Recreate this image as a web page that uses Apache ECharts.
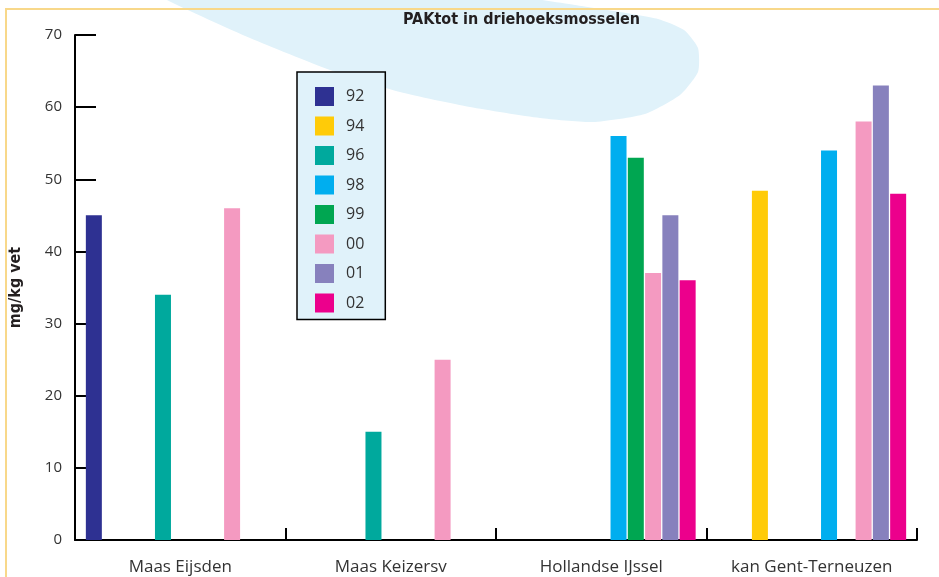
<!DOCTYPE html>
<html>
<head>
<meta charset="utf-8">
<title>PAKtot in driehoeksmosselen</title>
<script src="https://cdn.jsdelivr.net/npm/echarts@6/dist/echarts.min.js"></script>
<style>
  html, body { margin: 0; padding: 0; background: #ffffff; }
  #chart { width: 939px; height: 577px; }
</style>
</head>
<body>
<div id="chart"></div>
<script>
// Sampling locations (x categories)
var categories = ['Maas Eijsden', 'Maas Keizersv', 'Hollandse IJssel', 'kan Gent-Terneuzen'];

// Survey years; every year keeps its own slot in a group, even when not sampled
var years = ['92', '93', '94', '95', '96', '97', '98', '99', '00', '01', '02'];
// Years that appear in the legend (the others had no measurements)
var legendYears = ['92', '94', '96', '98', '99', '00', '01', '02'];

// PAKtot, mg/kg vet, per year and location
var v92 = [45, null, null, null];
var v93 = [null, null, null, null];
var v94 = [null, null, null, 48.4];
var v95 = [null, null, null, null];
var v96 = [34, 15, null, null];
var v97 = [null, null, null, null];
var v98 = [null, null, 56, 54];
var v99 = [null, null, 53, null];
var v00 = [46, 25, 37, 58];
var v01 = [null, null, 45, 63];
var v02 = [null, null, 36, 48];

var yearValues = [v92, v93, v94, v95, v96, v97, v98, v99, v00, v01, v02];

// Y axis range
var yMin = 0, yMax = 70, yStep = 10;

var yearColors = {
  '92': '#2e3192', '93': '#999999', '94': '#ffcb08', '95': '#999999',
  '96': '#00a99d', '97': '#999999', '98': '#00aeef', '99': '#00a651',
  '00': '#f49ac1', '01': '#8781bd', '02': '#ec008c'
};

var textFont = '"Open Sans", "Noto Sans", sans-serif';
var boldFont = '"Liberation Sans Narrow", "DejaVu Sans Condensed", "Open Sans", sans-serif';

var series = years.map(function (yr, i) {
  return {
    name: yr,
    type: 'bar',
    data: yearValues[i],
    barWidth: 16,
    barGap: '8%',
    itemStyle: { color: yearColors[yr] },
    emphasis: { disabled: true }
  };
});

var chart = echarts.init(document.getElementById('chart'), null, { renderer: 'canvas' });

chart.setOption({
  animation: false,
  backgroundColor: '#ffffff',
  title: {
    text: 'PAKtot in driehoeksmosselen',
    left: 403,
    top: 12,
    padding: 0,
    textStyle: { fontFamily: boldFont, fontWeight: 'bold', fontSize: 16, color: '#231f20' }
  },
  graphic: [
    {
      // soft blue backdrop shape
      type: 'polygon',
      z: -10,
      silent: true,
      shape: {
        smooth: 0.2,
        points: [
          [100, -40], [167, 0], [250, 38], [330, 70], [400, 92], [470, 107],
          [540, 118], [593, 122], [645, 114], [680, 95], [698, 72], [698, 48],
          [684, 30], [658, 19], [620, 12], [575, 5], [520, -4], [450, -25], [300, -60]
        ]
      },
      style: { fill: '#e0f2fa' }
    },
    {
      type: 'line', z: 100, silent: true,
      shape: { x1: 5, y1: 9, x2: 939, y2: 9 },
      style: { stroke: '#f8d88a', lineWidth: 2 }
    },
    {
      type: 'line', z: 100, silent: true,
      shape: { x1: 6, y1: 9, x2: 6, y2: 577 },
      style: { stroke: '#f8d88a', lineWidth: 2 }
    }
  ],
  legend: {
    data: legendYears,
    orient: 'vertical',
    left: 297,
    top: 72,
    backgroundColor: '#e0f2fa',
    borderColor: '#000000',
    borderWidth: 1.5,
    borderRadius: 0,
    padding: [15, 21, 7, 18],
    itemWidth: 19,
    itemHeight: 19,
    itemGap: 10.5,
    icon: 'rect',
    selectedMode: false,
    textStyle: { fontFamily: textFont, fontSize: 16, color: '#333333', padding: [0, 0, 0, 7] }
  },
  grid: { left: 75, right: 22, top: 35, bottom: 37, containLabel: false },
  xAxis: {
    type: 'category',
    data: categories,
    axisLine: { show: true, lineStyle: { color: '#000000', width: 2 } },
    axisTick: { show: true, inside: true, length: 12, interval: 0, lineStyle: { color: '#000000', width: 2 } },
    axisLabel: { interval: 0, margin: 19, fontFamily: textFont, fontSize: 17, color: '#333333' },
    splitLine: { show: false }
  },
  yAxis: {
    type: 'value',
    min: yMin,
    max: yMax,
    interval: yStep,
    name: 'mg/kg vet',
    nameLocation: 'middle',
    nameGap: 51,
    nameTextStyle: { fontFamily: boldFont, fontWeight: 'bold', fontSize: 16, color: '#231f20' },
    axisLine: { show: true, lineStyle: { color: '#000000', width: 2 } },
    axisTick: { show: true, inside: true, length: 21, lineStyle: { color: '#000000', width: 2 } },
    axisLabel: { margin: 13, fontFamily: textFont, fontSize: 15, color: '#333333' },
    splitLine: { show: false }
  },
  series: series
});
</script>
</body>
</html>
